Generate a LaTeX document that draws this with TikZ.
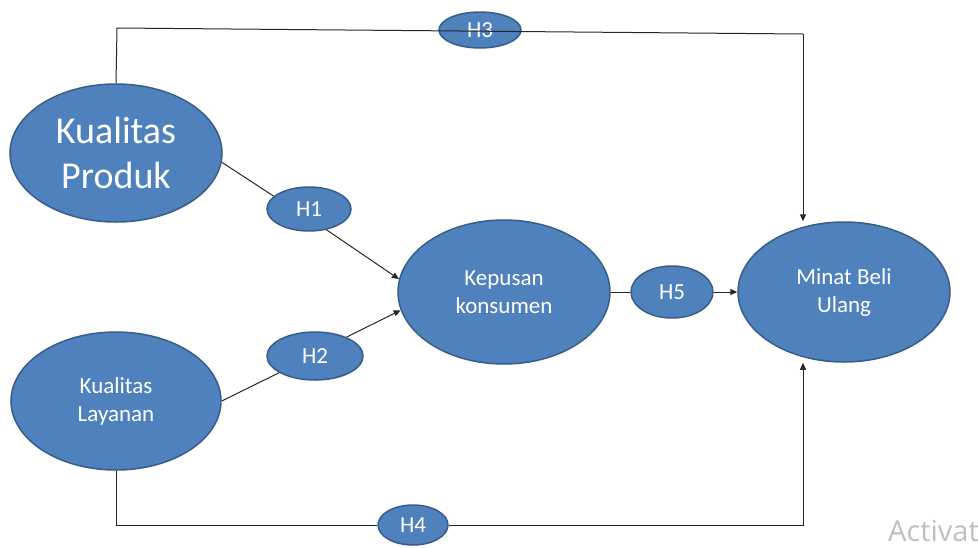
\documentclass[tikz,border=0pt]{standalone}
\usepackage{fontspec}
\setmainfont{Carlito}
\newfontfamily\wmfont{Open Sans}
\usepackage{tikz}
\usetikzlibrary{shapes.geometric,arrows.meta}
\definecolor{varblue}{HTML}{4F81BD}
\definecolor{varedge}{HTML}{385D8A}
\definecolor{wmgray}{HTML}{BFBFBF}

\begin{document}
\begin{tikzpicture}[x=1pt,y=-1pt,
  var/.style={ellipse,draw=varedge,line width=1.5pt,fill=varblue,
    inner sep=0pt,align=center,text=white,
    font=\fontsize{23}{28}\selectfont},
  ln/.style={line width=1pt,black!85},
  arr/.style={ln,-{Triangle[length=7pt,width=6pt]}}]

  \useasboundingbox (0,0) rectangle (978,547);
  \clip (0,0) rectangle (978,547);

  \node[var,minimum width=212pt,minimum height=138pt,
    font=\fontsize{38}{45}\selectfont] (kp) at (116,153) {Kualitas\\Produk};
  \node[var,minimum width=210pt,minimum height=138pt] (kl) at (116,401) {Kualitas\\Layanan};
  \node[var,minimum width=212pt,minimum height=144pt] (kep) at (504,292) {Kepusan\\konsumen};
  \node[var,minimum width=212pt,minimum height=140pt] (minat) at (844,292) {Minat Beli\\Ulang};

  \node[var,minimum width=84pt,minimum height=44pt] (h1) at (309,209) {H1};
  \node[var,minimum width=96pt,minimum height=48pt] (h2) at (315,356) {H2};
  \node[var,minimum width=82pt,minimum height=36pt] (h3) at (480,30) {H3};
  \node[var,minimum width=70pt,minimum height=40pt] (h4) at (413,525) {H4};
  \node[var,minimum width=82pt,minimum height=52pt] (h5) at (672,292) {H5};

  \coordinate (h3l) at (117,28);
  \coordinate (h3r) at (803,34);
  \coordinate (h4r) at (803,525);

  \draw[ln] (kp.-5) -- (h1.160);
  \draw[arr] (h1.-50) -- (kep.173);
  \draw[ln] (kl.east) -- (h2.205);
  \draw[arr] (h2.31) -- (kep.190);
  \draw[ln] (kep) -- (h5);
  \draw[arr] (h5) -- (minat);
  \draw[ln] (kp.north) -- (h3l) -- (h3r);
  \draw[arr] (h3r) -- (h3r |- minat.north);
  \draw[ln] (kl.south) |- (h4);
  \draw[arr] (h4) -| (h4r |- minat.south);

  \node[font=\wmfont\fontsize{29}{34}\selectfont,text=wmgray,
    anchor=base west,inner sep=0pt] (wm) at (888,541) {Activate};
\end{tikzpicture}
\end{document}
